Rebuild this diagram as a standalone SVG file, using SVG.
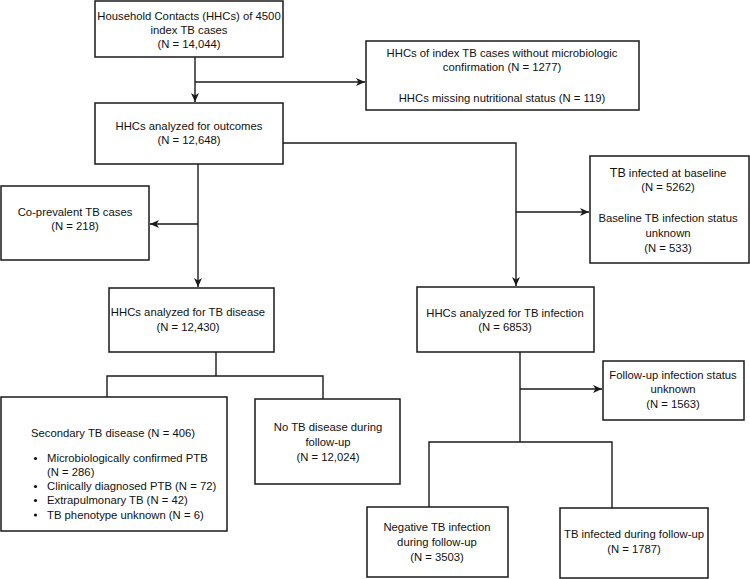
<svg xmlns="http://www.w3.org/2000/svg" width="750" height="579" viewBox="0 0 750 579">
<defs>
<style>
.box{fill:#fff;stroke:#1a1a1a;stroke-width:1.5}
.t{font-family:"Liberation Sans",Arial,sans-serif;font-size:11.3px;fill:#111;text-anchor:middle}
.tl{font-family:"Liberation Sans",Arial,sans-serif;font-size:11.3px;fill:#111}
.c{fill:none;stroke:#1a1a1a;stroke-width:1.4}
</style>
<marker id="ah" markerUnits="userSpaceOnUse" markerWidth="10" markerHeight="9" refX="9" refY="4" orient="auto">
<path d="M0,0 L9,4 L0,8 L2.5,4 z" fill="#1a1a1a"/>
</marker>
</defs>
<rect width="750" height="579" fill="#fff"/>
<g id="connectors">
<path class="c" d="M195,57 V102" marker-end="url(#ah)"/>
<path class="c" d="M195,82 H365" marker-end="url(#ah)"/>
<path class="c" d="M198,164 V287" marker-end="url(#ah)"/>
<path class="c" d="M198,224 H150" marker-end="url(#ah)"/>
<path class="c" d="M283,143 H516 V286" marker-end="url(#ah)"/>
<path class="c" d="M516,212 H589" marker-end="url(#ah)"/>
<path class="c" d="M216,352 V376 M107,397 V376 H323 V399"/>
<path class="c" d="M520,352 V442 M429,507 V442 H612 V508"/>
<path class="c" d="M520,389 H602" marker-end="url(#ah)"/>
</g>
<g id="n1">
<rect class="box" x="95" y="1" width="188" height="56"/>
<text class="t" x="189" y="20">Household Contacts (HHCs) of 4500</text>
<text class="t" x="189" y="34">index TB cases</text>
<text class="t" x="189" y="48">(N = 14,044)</text>
</g>
<g id="n2">
<rect class="box" x="366" y="41" width="273" height="69"/>
<text class="t" x="502" y="57">HHCs of index TB cases without microbiologic</text>
<text class="t" x="502" y="71">confirmation (N = 1277)</text>
<text class="t" x="502" y="102">HHCs missing nutritional status (N = 119)</text>
</g>
<g id="n3">
<rect class="box" x="95" y="103" width="188" height="61"/>
<text class="t" x="189" y="130">HHCs analyzed for outcomes</text>
<text class="t" x="189" y="144">(N = 12,648)</text>
</g>
<g id="n4">
<rect class="box" x="1" y="186" width="148" height="74"/>
<text class="t" x="75" y="216">Co-prevalent TB cases</text>
<text class="t" x="75" y="230">(N = 218)</text>
</g>
<g id="n5">
<rect class="box" x="590" y="156" width="159" height="107"/>
<text class="t" x="668" y="177"><tspan font-size="12.5px">TB</tspan> infected at baseline</text>
<text class="t" x="668" y="191">(N = 5262)</text>
<text class="t" x="668" y="222">Baseline TB infection status</text>
<text class="t" x="668" y="237">unknown</text>
<text class="t" x="668" y="252">(N = 533)</text>
</g>
<g id="n6">
<rect class="box" x="109" y="288" width="165" height="64"/>
<text class="t" x="188" y="316">HHCs analyzed for TB disease</text>
<text class="t" x="188" y="331">(N = 12,430)</text>
</g>
<g id="n7">
<rect class="box" x="417" y="287" width="177" height="65"/>
<text class="t" x="505" y="317">HHCs analyzed for TB infection</text>
<text class="t" x="505" y="331">(N = 6853)</text>
</g>
<g id="n8">
<rect class="box" x="1" y="397" width="226" height="134"/>
<text class="tl" x="31" y="437">Secondary TB disease (N = 406)</text>
<circle cx="35.5" cy="458.5" r="1.6" fill="#111"/>
<text class="tl" x="47" y="462">Microbiologically confirmed PTB</text>
<text class="tl" x="47" y="476">(N = 286)</text>
<circle cx="35.5" cy="486.5" r="1.6" fill="#111"/>
<text class="tl" x="47" y="490">Clinically diagnosed PTB (N = 72)</text>
<circle cx="35.5" cy="500.5" r="1.6" fill="#111"/>
<text class="tl" x="47" y="504">Extrapulmonary TB (N = 42)</text>
<circle cx="35.5" cy="515" r="1.6" fill="#111"/>
<text class="tl" x="47" y="519">TB phenotype unknown (N = 6)</text>
</g>
<g id="n9">
<rect class="box" x="255" y="399" width="145" height="85"/>
<text class="t" x="328" y="431">No TB disease during</text>
<text class="t" x="328" y="446">follow-up</text>
<text class="t" x="328" y="461">(N = 12,024)</text>
</g>
<g id="n10">
<rect class="box" x="603" y="361" width="141" height="59"/>
<text class="t" x="673" y="379">Follow-up infection status</text>
<text class="t" x="673" y="393">unknown</text>
<text class="t" x="673" y="408">(N = 1563)</text>
</g>
<g id="n11">
<rect class="box" x="367" y="507" width="141" height="70"/>
<text class="t" x="437" y="531">Negative TB infection</text>
<text class="t" x="437" y="546">during follow-up</text>
<text class="t" x="437" y="561">(N = 3503)</text>
</g>
<g id="n12">
<rect class="box" x="560" y="508" width="148" height="70"/>
<text class="t" x="634" y="538">TB infected during follow-up</text>
<text class="t" x="634" y="553">(N = 1787)</text>
</g>
</svg>
